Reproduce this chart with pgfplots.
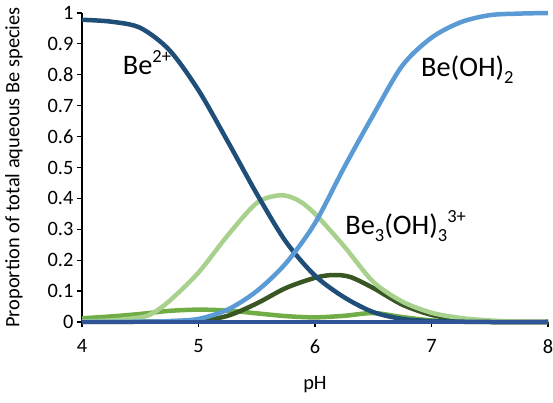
\documentclass[border=0pt]{standalone}
\usepackage{fontspec}
\setmainfont{Carlito}
\usepackage{pgfplots}
\pgfplotsset{compat=1.18}
\definecolor{cBe}{HTML}{1F4E79}
\definecolor{cBeOH}{HTML}{5B9BD5}
\definecolor{cLG}{HTML}{A9D18E}
\definecolor{cDG}{HTML}{385723}
\definecolor{cMG}{HTML}{70AD47}
\definecolor{cBase}{HTML}{2F5597}
\newcommand{\mysup}[1]{\raisebox{0.42em}{\fontsize{18.5pt}{19pt}\selectfont #1}}
\newcommand{\mysub}[1]{\raisebox{-0.22em}{\fontsize{18.5pt}{19pt}\selectfont #1}}
\begin{document}
\begin{tikzpicture}
\begin{axis}[
  at={(82pt,81pt)}, anchor=south west,
  scale only axis, width=466pt, height=309pt,
  xmin=4, xmax=8, ymin=0, ymax=1,
  axis lines*=left,
  axis line style={black, line width=1.2pt},
  xtick={4,5,6,7,8},
  ytick={0,0.1,...,1.0},
  yticklabels={0,0.1,0.2,0.3,0.4,0.5,0.6,0.7,0.8,0.9,1},
  tick align=outside,
  major tick length=5pt,
  tick style={black, line width=1.2pt},
  ticklabel style={font=\fontsize{20.4pt}{22pt}\selectfont},
  xticklabel style={yshift=-9pt},
  /pgf/number format/assume math mode=true,
  xlabel={pH},
  ylabel={Proportion of total aqueous Be species},
  label style={font=\fontsize{20.4pt}{22pt}\selectfont},
  xlabel style={at={(axis description cs:0.5,-0.204)}, anchor=center},
  ylabel style={at={(axis description cs:-0.146,0.5)}, anchor=center},
  clip=false,
]
% medium green
\addplot[color=cMG, line width=4.5pt, smooth] coordinates {
(4.0,0.012) (4.25,0.018) (4.5,0.026) (4.75,0.036) (5.0,0.040) (5.25,0.037)
(5.5,0.028) (5.75,0.019) (6.0,0.015) (6.25,0.020) (6.5,0.029) (6.75,0.016)
(7.0,0.005) (7.25,0.001) (7.5,0) (8.0,0)};
% dark green
\addplot[color=cDG, line width=4.5pt, smooth] coordinates {
(4.0,0) (4.5,0.001) (5.0,0.005) (5.25,0.02) (5.5,0.06) (5.75,0.11)
(6.0,0.143) (6.15,0.152) (6.3,0.146) (6.5,0.11) (6.75,0.056) (7.0,0.023)
(7.25,0.007) (7.5,0.001) (8.0,0)};
% light green Be3(OH)3
\addplot[color=cLG, line width=4.5pt, smooth] coordinates {
(4.0,0.002) (4.25,0.005) (4.5,0.015) (4.6,0.027) (4.75,0.068) (5.0,0.16)
(5.25,0.28) (5.5,0.385) (5.7,0.41) (5.85,0.395) (6.0,0.35) (6.25,0.245)
(6.5,0.13) (6.75,0.066) (7.0,0.03) (7.25,0.013) (7.5,0.005) (7.75,0.001) (8.0,0)};
% Be2+
\addplot[color=cBe, line width=4.5pt, smooth] coordinates {
(4.0,0.978) (4.25,0.972) (4.5,0.952) (4.75,0.88) (5.0,0.75) (5.25,0.585)
(5.5,0.415) (5.75,0.26) (6.0,0.15) (6.25,0.08) (6.5,0.032) (6.75,0.01)
(7.0,0.003) (7.25,0.001) (7.5,0) (8.0,0)};
% Be(OH)2
\addplot[color=cBeOH, line width=4.5pt, smooth] coordinates {
(4.0,0) (4.5,0.001) (4.75,0.003) (5.0,0.01) (5.25,0.04) (5.5,0.10)
(5.75,0.19) (6.0,0.32) (6.25,0.50) (6.5,0.67) (6.75,0.83) (7.0,0.92)
(7.25,0.97) (7.5,0.993) (7.75,0.998) (8.0,1.0)};
% baseline species
\addplot[color=cBase, line width=4.5pt] coordinates {(4,0) (8,0)};
\node[anchor=base west, inner sep=0pt, font=\fontsize{28.3pt}{30pt}\selectfont] at (axis cs:4.35,0.80) {Be\mysup{2+}};
\node[anchor=base west, inner sep=0pt, font=\fontsize{28.3pt}{30pt}\selectfont] at (axis cs:6.91,0.793) {Be(OH)\mysub{2}};
\node[anchor=base west, inner sep=0pt, font=\fontsize{28.3pt}{30pt}\selectfont] at (axis cs:6.26,0.282) {Be\mysub{3}(OH)\mysub{3}\mysup{3+}};
\end{axis}
\pgfresetboundingbox
\path[use as bounding box] (0,0) rectangle (553pt,403pt);
\end{tikzpicture}
\end{document}
